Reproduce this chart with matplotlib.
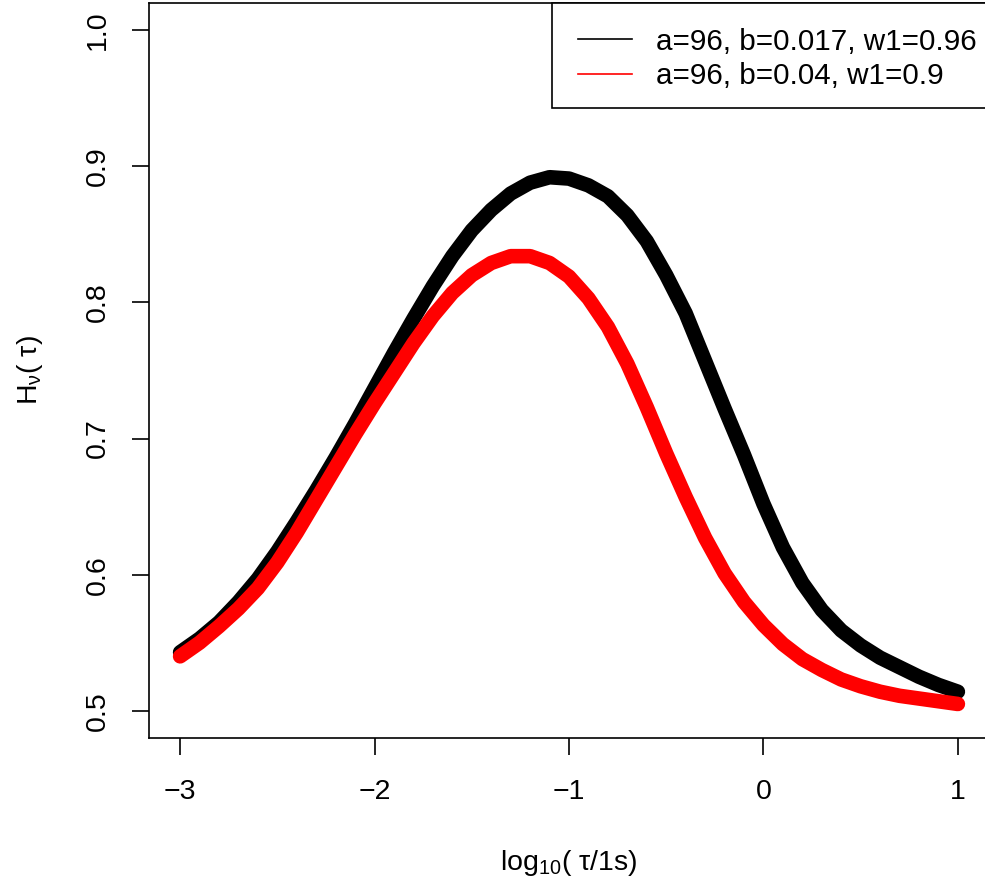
import matplotlib
matplotlib.use("Agg")
import matplotlib.pyplot as plt
from matplotlib.lines import Line2D
from matplotlib.patches import Rectangle

plt.rcParams['font.family'] = ['Liberation Sans', 'DejaVu Sans']
plt.rcParams['mathtext.fontset'] = 'custom'
plt.rcParams['mathtext.rm'] = 'Liberation Sans'
plt.rcParams['mathtext.it'] = 'Liberation Sans'

# values: log10(tau) and H
x_black = [-3.0, -2.9, -2.8, -2.7, -2.6, -2.5, -2.4, -2.3, -2.2, -2.1,
           -2.0, -1.9, -1.8, -1.7, -1.6, -1.5, -1.4, -1.3, -1.2, -1.1,
           -1.0, -0.9, -0.8, -0.7, -0.6, -0.5, -0.4, -0.3, -0.2, -0.1,
           0.0, 0.1, 0.2, 0.3, 0.4, 0.5, 0.6, 0.7, 0.8, 0.9, 1.0]
y_black = [0.543, 0.553, 0.565, 0.580, 0.597, 0.617, 0.639, 0.662, 0.686, 0.711,
           0.737, 0.763, 0.788, 0.812, 0.834, 0.853, 0.868, 0.880, 0.888, 0.892,
           0.891, 0.886, 0.878, 0.864, 0.845, 0.820, 0.792, 0.757, 0.722, 0.688,
           0.652, 0.620, 0.594, 0.574, 0.559, 0.548, 0.539, 0.532, 0.525, 0.519,
           0.514]

x_red = x_black
y_red = [0.540, 0.550, 0.562, 0.575, 0.590, 0.609, 0.631, 0.655, 0.679, 0.703,
         0.726, 0.748, 0.770, 0.790, 0.807, 0.820, 0.829, 0.834, 0.834, 0.829,
         0.819, 0.803, 0.782, 0.755, 0.723, 0.689, 0.657, 0.627, 0.601, 0.580,
         0.563, 0.549, 0.538, 0.530, 0.523, 0.518, 0.514, 0.511, 0.509, 0.507,
         0.505]

labels = ['a=96, b=0.017, w1=0.96', 'a=96, b=0.04, w1=0.9']
colors = ['black', 'red']
xticks = [-3, -2, -1, 0, 1]
yticks = [0.5, 0.6, 0.7, 0.8, 0.9, 1.0]

W, H = 985, 884
fig = plt.figure(figsize=(W / 100, H / 100), dpi=100)
ax = fig.add_axes([149 / W, (H - 738) / H, (989 - 149) / W, (738 - 3) / H])

ax.plot(x_black, y_black, color='black', lw=10.5, solid_capstyle='round',
        solid_joinstyle='round')
ax.plot(x_red, y_red, color='red', lw=10.5, solid_capstyle='round',
        solid_joinstyle='round')

ax.set_xlim(-3.16, 1.16)
ax.set_ylim(0.48, 1.02)
ax.set_xticks(xticks)
ax.set_xticklabels(['\u22123', '\u22122', '\u22121', '0', '1'])
ax.set_yticks(yticks)
ax.set_yticklabels(['0.5', '0.6', '0.7', '0.8', '0.9', '1.0'], rotation=90,
                   va='center')
ax.tick_params(direction='out', length=12.5, width=1.2, labelsize=20.5)
ax.tick_params(axis='x', pad=17)
ax.tick_params(axis='y', pad=15)
for s in ax.spines.values():
    s.set_linewidth(1.2)

ax.set_xlabel(r'log$_{10}$( τ/1s)', fontsize=20.5, labelpad=31)
ax.set_ylabel(r'H$_{\nu}$( τ)', fontsize=20.5, labelpad=29)

# legend drawn by hand in pixel positions (box runs off the right edge)
fig.add_artist(Rectangle((552 / W, 1 - 108 / H), 500 / W, 105 / H,
                         transform=fig.transFigure, facecolor='white',
                         edgecolor='black', lw=1.2, zorder=5))
for i, (lab, c) in enumerate(zip(labels, colors)):
    yl = 1 - (39 + 35 * i) / H
    fig.add_artist(Line2D([578 / W, 632 / W], [yl, yl], color=c, lw=1.2,
                          transform=fig.transFigure, zorder=6))
    fig.text(656 / W, 1 - (50 + 34 * i) / H, lab, fontsize=21.3, va='baseline',
             ha='left', zorder=6)

fig.savefig('out.png', dpi=100)
